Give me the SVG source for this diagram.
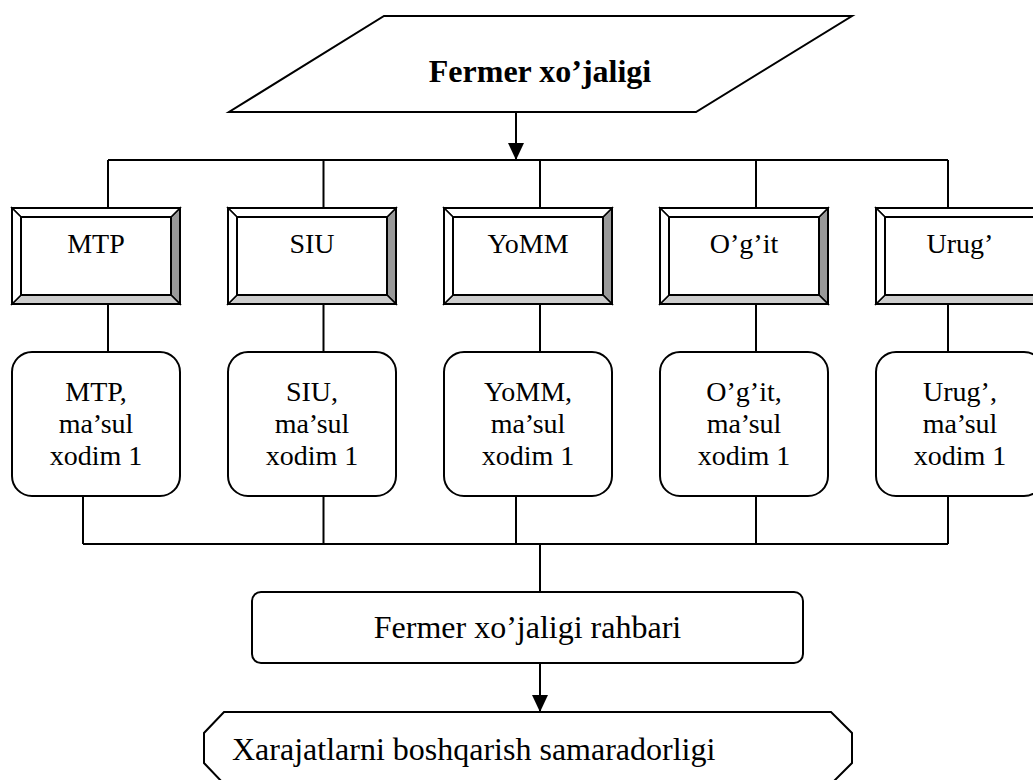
<svg xmlns="http://www.w3.org/2000/svg" width="1033" height="780" viewBox="0 0 1033 780" font-family="'Liberation Serif', 'Times New Roman', serif">
<style>
.ln{fill:none;stroke:#000;stroke-width:2}
.sh{fill:#fff;stroke:#000;stroke-width:2}
.t{font-family:'Liberation Serif','Times New Roman',serif;fill:#000;text-anchor:middle}
.t28{font-size:28px}
.t32{font-size:32px}
.bold{font-weight:bold}
.br{fill:#999;stroke:#000;stroke-width:1.5}
.bb{fill:#ccc;stroke:#000;stroke-width:1.5}
.bw{fill:#fff;stroke:#000;stroke-width:1.5}
</style>
<defs>
<marker id="ah" markerUnits="userSpaceOnUse" markerWidth="18" markerHeight="16" refX="17" refY="8" orient="auto" viewBox="0 0 18 16">
<path d="M0,0 L17,8 L0,16 Z" fill="#000"/>
</marker>
<g id="bev">
<rect x="0" y="0" width="168" height="96" fill="#fff"/>
<polygon class="br" points="168,0 168,96 159,87 159,9"/>
<polygon class="bb" points="0,96 168,96 159,87 9,87"/>
<polygon class="bw" points="0,0 168,0 159,9 9,9"/>
<polygon class="bw" points="0,0 9,9 9,87 0,96"/>
<rect x="0" y="0" width="168" height="96" fill="none" stroke="#000" stroke-width="2"/>
<rect x="9" y="9" width="150" height="78" fill="none" stroke="#000" stroke-width="2"/>
</g>
</defs>

<g id="connectors">
<line class="ln" x1="516" y1="112" x2="516" y2="160" marker-end="url(#ah)"/>
<path class="ln" d="M108,160 H948 M108,160 V208 M323.5,160 V208 M540,160 V208 M756,160 V208 M948,160 V208"/>
<path class="ln" d="M108,304 V352 M323.5,304 V352 M540,304 V352 M756,304 V352 M948,304 V352"/>
<path class="ln" d="M83,496 V544 M323.5,496 V544 M516,496 V544 M756,496 V544 M948,496 V544 M83,544 H948 M540,544 V592"/>
<line class="ln" x1="540" y1="663" x2="540" y2="712" marker-end="url(#ah)"/>
</g>

<g id="fermer">
<polygon class="sh" points="384,16 852,16 696,112 229,112"/>
<text class="t t32 bold" x="540" y="82">Fermer xo’jaligi</text>
</g>

<g id="b-mtp"><use href="#bev" x="12" y="208"/><text class="t t28" x="96" y="253">MTP</text></g>
<g id="b-siu"><use href="#bev" x="228" y="208"/><text class="t t28" x="312" y="253">SIU</text></g>
<g id="b-yomm"><use href="#bev" x="444" y="208"/><text class="t t28" x="528" y="253">YoMM</text></g>
<g id="b-ogit"><use href="#bev" x="660" y="208"/><text class="t t28" x="744" y="253">O’g’it</text></g>
<g id="b-urug"><use href="#bev" x="876" y="208"/><text class="t t28" x="960" y="253">Urug’</text></g>

<g id="r-mtp"><rect class="sh" x="12" y="352" width="168" height="144" rx="20"/>
<text class="t t28" x="96"><tspan x="96" y="401">MTP,</tspan><tspan x="96" y="433">ma’sul</tspan><tspan x="96" y="465">xodim 1</tspan></text></g>
<g id="r-siu"><rect class="sh" x="228" y="352" width="168" height="144" rx="20"/>
<text class="t t28" x="312"><tspan x="312" y="401">SIU,</tspan><tspan x="312" y="433">ma’sul</tspan><tspan x="312" y="465">xodim 1</tspan></text></g>
<g id="r-yomm"><rect class="sh" x="444" y="352" width="168" height="144" rx="20"/>
<text class="t t28" x="528"><tspan x="528" y="401">YoMM,</tspan><tspan x="528" y="433">ma’sul</tspan><tspan x="528" y="465">xodim 1</tspan></text></g>
<g id="r-ogit"><rect class="sh" x="660" y="352" width="168" height="144" rx="20"/>
<text class="t t28" x="744"><tspan x="744" y="401">O’g’it,</tspan><tspan x="744" y="433">ma’sul</tspan><tspan x="744" y="465">xodim 1</tspan></text></g>
<g id="r-urug"><rect class="sh" x="876" y="352" width="168" height="144" rx="20"/>
<text class="t t28" x="960"><tspan x="960" y="401">Urug’,</tspan><tspan x="960" y="433">ma’sul</tspan><tspan x="960" y="465">xodim 1</tspan></text></g>

<g id="rahbar">
<rect class="sh" x="252" y="592" width="551" height="71" rx="9"/>
<text class="t t32" x="527.5" y="638">Fermer xo’jaligi rahbari</text>
</g>

<g id="samaradorlik">
<polygon class="sh" points="224,712 831,712 852,733 852,763 831,784 224,784 204,763 204,733"/>
<text class="t t32" x="232" y="760" style="text-anchor:start">Xarajatlarni boshqarish samaradorligi</text>
</g>
</svg>
